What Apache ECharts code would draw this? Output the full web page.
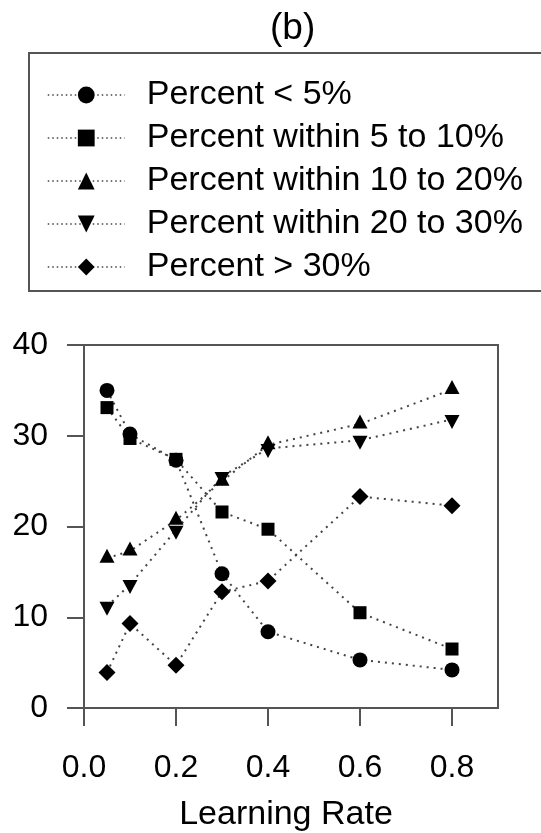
<!DOCTYPE html>
<html>
<head>
<meta charset="utf-8">
<script src="https://cdn.jsdelivr.net/npm/echarts@6/dist/echarts.min.js"></script>
<style>
  html, body { margin: 0; padding: 0; background: #fff; }
  #chart { width: 541px; height: 833px; }
</style>
</head>
<body>
<div id="chart"></div>
<script>
// learning rate values on the x axis
var rates = [0.05, 0.1, 0.2, 0.3, 0.4, 0.6, 0.8];

// percent of cases per error band
var below5 = [35.0, 30.2, 27.3, 14.8, 8.4, 5.3, 4.2];
var within5to10 = [33.1, 29.7, 27.4, 21.6, 19.7, 10.5, 6.5];
var within10to20 = [16.5, 17.3, 20.7, 25.0, 29.0, 31.3, 35.1];
var within20to30 = [11.2, 13.6, 19.6, 25.5, 28.6, 29.5, 31.8];
var above30 = [3.9, 9.3, 4.7, 12.8, 14.0, 23.3, 22.3];

var seriesNames = [
    'Percent < 5%',
    'Percent within 5 to 10%',
    'Percent within 10 to 20%',
    'Percent within 20 to 30%',
    'Percent > 30%'
];
var xTicks = [0, 0.2, 0.4, 0.6, 0.8];
var yTicks = [0, 10, 20, 30, 40];

var font = '"Liberation Sans", Arial, Helvetica, sans-serif';

function pairs(vals) {
    return rates.map(function (r, i) { return [r, vals[i]]; });
}

function makeSeries(name, vals, symbol, size, offset) {
    return {
        name: name,
        type: 'line',
        data: pairs(vals),
        symbol: symbol,
        symbolSize: size,
        symbolOffset: offset || [0, 0],
        showSymbol: true,
        itemStyle: { color: '#000' },
        lineStyle: { color: '#444', width: 2, type: [2, 5] },
        emphasis: { disabled: true }
    };
}

var chart = echarts.init(document.getElementById('chart'));
chart.setOption({
    animation: false,
    textStyle: { fontFamily: font },
    title: {
        text: '(b)',
        left: 265,
        top: 5,
        textStyle: { fontFamily: font, fontSize: 37, fontWeight: 'normal', color: '#000' }
    },
    graphic: [{
        type: 'rect',
        shape: { x: 29, y: 53, width: 530, height: 238 },
        style: { fill: 'none', stroke: '#555', lineWidth: 2 },
        silent: true
    }],
    legend: {
        orient: 'vertical',
        left: 42,
        top: 73,
        itemWidth: 77,
        itemHeight: 21,
        itemGap: 9,
        data: seriesNames,
        lineStyle: { width: 1.5, type: [1.5, 3], color: '#444' },
        textStyle: {
            fontFamily: font,
            fontSize: 34,
            color: '#000',
            padding: [0, 0, 0, 17]
        }
    },
    grid: {
        left: 84,
        right: 43,
        top: 345,
        bottom: 125,
        show: true,
        borderColor: '#555',
        borderWidth: 2,
        backgroundColor: 'transparent'
    },
    xAxis: {
        type: 'value',
        min: 0,
        max: 0.9,
        interval: 0.2,
        name: 'Learning Rate',
        nameLocation: 'middle',
        nameGap: 90,
        nameTextStyle: { fontFamily: font, fontSize: 34, color: '#000', padding: [0, 10, 0, 0] },
        axisLine: { show: false },
        axisTick: { show: true, length: 18, customValues: xTicks, lineStyle: { color: '#555', width: 2 } },
        axisLabel: {
            customValues: xTicks,
            margin: 44,
            fontFamily: font,
            fontSize: 32,
            color: '#000',
            formatter: function (v) { return v.toFixed(1); }
        },
        splitLine: { show: false }
    },
    yAxis: {
        type: 'value',
        min: 0,
        max: 40,
        interval: 10,
        axisLine: { show: false },
        axisTick: { show: true, length: 17, customValues: yTicks, lineStyle: { color: '#555', width: 2 } },
        axisLabel: { customValues: yTicks, margin: 36, fontFamily: font, fontSize: 32, color: '#000' },
        splitLine: { show: false }
    },
    series: [
        makeSeries(seriesNames[0], below5, 'circle', 15),
        makeSeries(seriesNames[1], within5to10, 'rect', 13),
        makeSeries(seriesNames[2], within10to20, 'triangle', [15, 14], [0, -2.5]),
        makeSeries(seriesNames[3], within20to30, 'path://M0,0L20,0L10,18Z', [15, 14], [0, 2.5]),
        makeSeries(seriesNames[4], above30, 'diamond', 17)
    ]
});
</script>
</body>
</html>
